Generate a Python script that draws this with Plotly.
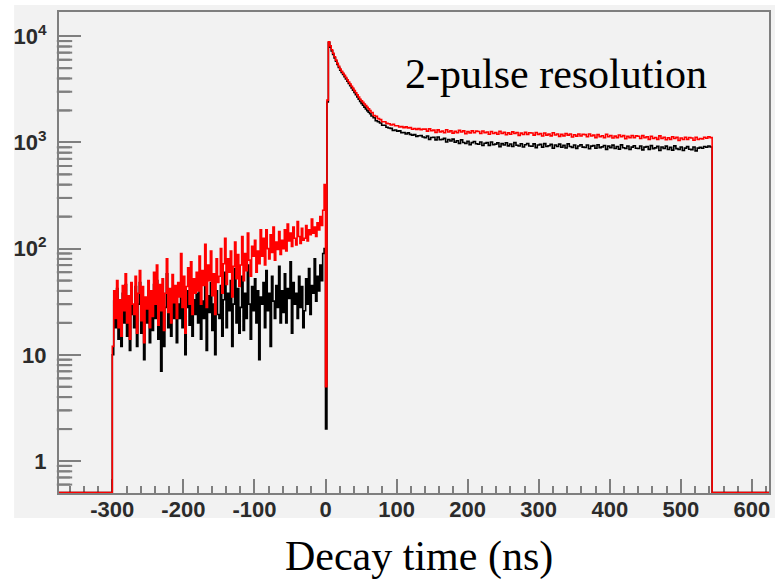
import numpy as np
import plotly.graph_objects as go

# ---------------- data (counts per bin) ----------------
X_MIN, X_MAX = -375, 624
Y_MIN, Y_MAX = 0.506, 16900

# region 1: -300 .. 0 ns, 2 ns bins
PRE_START, PRE_WIDTH = -300, 2
PRE_RED = [
    12, 40, 22, 50, 18, 33, 15, 45, 26, 58, 20, 36, 14, 48, 30,
    24, 55, 16, 38, 62, 21, 44, 13, 35, 27, 50, 18, 40, 23, 60,
    30, 70, 19, 46, 26, 52, 17, 38, 80, 25, 42, 20, 57, 31, 45,
    22, 48, 35, 90, 28, 55, 16, 44, 66, 30, 75, 24, 52, 38, 60,
    40, 85, 30, 62, 45, 110, 28, 70, 50, 95, 36, 58, 24, 80, 48,
    55, 100, 38, 72, 125, 46, 80, 60, 95, 35, 68, 115, 52, 88, 44,
    70, 130, 50, 90, 62, 140, 78, 55, 105, 85, 120, 60, 95, 72, 150,
    85, 125, 70, 150, 100, 80, 135, 92, 160, 78, 115, 98, 145, 88, 120,
    100, 150, 95, 170, 118, 140, 105, 160, 125, 108, 180, 130, 112, 155, 120,
    125, 165, 118, 150, 135, 190, 140, 160, 130, 175, 150, 200, 165, 230, 400,
]
PRE_BLACK = [
    10, 32, 18, 42, 14, 26, 12, 38, 20, 46, 15, 28, 11, 40, 24,
    18, 44, 12, 30, 48, 16, 34, 9, 27, 20, 40, 13, 32, 17, 46,
    22, 50, 14, 34, 7, 38, 12, 28, 58, 18, 30, 15, 42, 22, 33,
    13, 30, 22, 45, 18, 36, 10, 28, 40, 19, 48, 15, 33, 24, 38,
    20, 42, 14, 32, 22, 55, 11, 36, 25, 48, 17, 30, 10, 40, 24,
    22, 45, 15, 33, 60, 18, 38, 26, 50, 12, 30, 65, 20, 42, 16,
    28, 55, 17, 38, 22, 70, 30, 14, 44, 26, 52, 20, 40, 9, 35,
    30, 48, 18, 62, 26, 38, 12, 55, 32, 22, 45, 28, 68, 20, 40,
    25, 58, 20, 42, 34, 75, 16, 48, 30, 38, 22, 55, 28, 44, 18,
    26, 52, 30, 65, 24, 45, 38, 80, 32, 55, 40, 70, 50, 90, 100,
]

# region 2: 0 .. 64 ns, 2 ns bins (dip, rise, fast decay)
MID_START, MID_WIDTH = 0, 2
MID_RED = [
    5, 2500,
    8850, 8100, 7450, 6900, 6400, 5950, 5550, 5200, 4900, 4680,
    4480, 4275, 4080, 3890, 3710, 3540, 3380, 3225, 3075, 2935,
    2800, 2670, 2550, 2465, 2380, 2300, 2220, 2145, 2070, 2000,
]
MID_BLACK = [
    2, 2400,
    8700, 7900, 7280, 6740, 6250, 5820, 5420, 5080, 4780, 4560,
    4370, 4160, 3960, 3770, 3590, 3420, 3260, 3100, 2950, 2810,
    2680, 2550, 2430, 2330, 2240, 2150, 2060, 1990, 1920, 1860,
]

# region 3: 64 .. 544 ns, 3 ns bins (slow component)
LATE_START, LATE_WIDTH = 64, 3
LATE_RED = [
    1911, 1795, 1760, 1676, 1638, 1563, 1566, 1510, 1498, 1457,
    1482, 1436, 1437, 1395, 1408, 1378, 1401, 1370, 1377, 1330,
    1352, 1327, 1349, 1316, 1333, 1334, 1276, 1341, 1287, 1305,
    1241, 1313, 1257, 1278, 1233, 1316, 1255, 1283, 1223, 1271,
    1233, 1297, 1254, 1283, 1206, 1264, 1229, 1284, 1232, 1276,
    1266, 1212, 1282, 1231, 1252, 1192, 1267, 1213, 1237, 1192,
    1274, 1214, 1242, 1182, 1230, 1192, 1256, 1213, 1241, 1165,
    1223, 1187, 1243, 1191, 1234, 1225, 1171, 1240, 1190, 1211,
    1150, 1226, 1172, 1196, 1151, 1233, 1173, 1201, 1140, 1189,
    1151, 1214, 1172, 1200, 1123, 1182, 1146, 1201, 1150, 1193,
    1183, 1130, 1199, 1149, 1170, 1109, 1185, 1131, 1154, 1110,
    1192, 1131, 1160, 1099, 1147, 1110, 1173, 1130, 1159, 1082,
    1140, 1105, 1160, 1109, 1152, 1142, 1089, 1158, 1107, 1129,
    1068, 1143, 1090, 1113, 1068, 1151, 1090, 1118, 1058, 1106,
    1068, 1132, 1089, 1118, 1041, 1099, 1064, 1119, 1067, 1111,
    1101, 1047, 1117, 1066, 1087, 1080, 1120, 1095, 1130, 1110,
]
LATE_BLACK = [
    1771, 1706, 1600, 1566, 1523, 1451, 1450, 1388, 1366, 1355,
    1296, 1308, 1276, 1283, 1235, 1240, 1201, 1229, 1190, 1171,
    1184, 1141, 1154, 1159, 1126, 1106, 1149, 1068, 1112, 1119,
    1057, 1123, 1059, 1069, 1091, 1008, 1065, 1031, 1073, 1003,
    1037, 980, 1057, 998, 978, 1023, 953, 996, 1021, 970,
    961, 1009, 934, 983, 995, 938, 1009, 949, 963, 990,
    912, 975, 945, 993, 928, 966, 914, 996, 940, 924,
    972, 904, 949, 976, 926, 919, 968, 894, 945, 958,
    902, 974, 915, 931, 959, 882, 945, 916, 964, 899,
    938, 886, 968, 914, 898, 946, 879, 924, 951, 902,
    895, 945, 871, 923, 936, 880, 952, 893, 908, 936,
    859, 922, 893, 942, 877, 916, 865, 947, 892, 876,
    925, 858, 903, 930, 882, 875, 925, 851, 903, 916,
    860, 932, 874, 889, 917, 840, 904, 875, 923, 858,
    898, 846, 928, 873, 858, 906, 839, 884, 912, 863,
    856, 906, 833, 884, 897, 880, 914, 900, 925, 905,
]

X_TICKS = [-300, -200, -100, 0, 100, 200, 300, 400, 500, 600]
X_TICK_TEXT = ["-300", "-200", "-100", "0", "100", "200", "300", "400", "500", "600"]
Y_TICKS = [1, 10, 100, 1000, 10000]
Y_TICK_TEXT = ["1", "10", "10<sup>2</sup>", "10<sup>3</sup>", "10<sup>4</sup>"]

LABEL = "2-pulse resolution"
X_TITLE = "Decay time (ns)"


def step_series(pre, mid, late):
    edges = np.concatenate([
        [X_MIN],
        PRE_START + PRE_WIDTH * np.arange(len(pre)),
        MID_START + MID_WIDTH * np.arange(len(mid)),
        LATE_START + LATE_WIDTH * np.arange(len(late)),
        [LATE_START + LATE_WIDTH * len(late), X_MAX],
    ])
    vals = np.concatenate([[0], pre, mid, late, [0, 0]]).astype(float)
    vals = np.maximum(vals, Y_MIN)  # empty bins drawn on the frame bottom
    return edges, vals


xb, yb = step_series(PRE_BLACK, MID_BLACK, LATE_BLACK)
xr, yr = step_series(PRE_RED, MID_RED, LATE_RED)

W, H = 777, 581
L, R, T, B = 59, 6, 12, 88
pw, ph = W - L - R, H - T - B


def px_x(p):
    return (p - L) / pw


def px_y(p):
    return (H - B - p) / ph


tickfont = dict(family="Liberation Sans, Arial, sans-serif", size=22,
                color="#2b2b2b", weight="bold")
axcol = "#7f7f7f"
y_range = [float(np.log10(0.5)), float(np.log10(Y_MAX))]

# minor log tick positions (2..9 x 10^k) inside the range
minor_vals = [m * 10.0 ** k for k in range(-1, 5) for m in range(2, 10)
              if y_range[0] < np.log10(m * 10.0 ** k) < y_range[1]]

fig = go.Figure()
fig.add_trace(go.Scatter(x=xb, y=yb, mode="lines",
                         line=dict(color="#000000", width=1.6, shape="hv"),
                         hoverinfo="skip"))
fig.add_trace(go.Scatter(x=xr, y=yr, mode="lines",
                         line=dict(color="#ff0000", width=1.6, shape="hv"),
                         hoverinfo="skip"))
# minor tick marks on the left frame (short horizontal dashes, 11 px long)
tick_x = X_MIN + (5.5 / pw) * (X_MAX - X_MIN)
fig.add_trace(go.Scatter(x=[tick_x] * len(minor_vals), y=minor_vals,
                         mode="markers", hoverinfo="skip", cliponaxis=False,
                         marker=dict(symbol="line-ew", size=11, color=axcol,
                                     line=dict(color=axcol, width=2))))
# empty trace that carries the overlay x axis holding the tick labels
fig.add_trace(go.Scatter(x=[None], y=[None], xaxis="x2", yaxis="y",
                         mode="lines", hoverinfo="skip", showlegend=False))

# same minor ticks also as paper-referenced lines
minor_shapes = []
for v in minor_vals:
    yp = (np.log10(v) - y_range[0]) / (y_range[1] - y_range[0])
    minor_shapes.append(dict(type="line", xref="paper", yref="paper",
                             x0=0, x1=11 / pw, y0=float(yp), y1=float(yp),
                             line=dict(color=axcol, width=2)))

fig.update_layout(
    width=W, height=H,
    margin=dict(l=L, r=R, t=T, b=B, pad=0),
    paper_bgcolor="white",
    plot_bgcolor="#f2f2f2",
    showlegend=False,
    xaxis=dict(
        range=[X_MIN, X_MAX], showgrid=False, zeroline=False,
        showline=True, linecolor=axcol, linewidth=2, mirror=True,
        tickmode="array", tickvals=X_TICKS, showticklabels=False,
        ticks="inside", ticklen=14, tickwidth=2, tickcolor=axcol,
        minor=dict(dtick=20, ticks="inside", ticklen=7, tickwidth=2,
                   tickcolor=axcol, showgrid=False),
        layer="below traces",
    ),
    xaxis2=dict(
        overlaying="x", anchor="y", side="bottom",
        range=[X_MIN, X_MAX], showgrid=False, zeroline=False, showline=False,
        tickmode="array", tickvals=X_TICKS, ticktext=X_TICK_TEXT,
        ticks="", tickfont=tickfont, ticklabelstandoff=1,
    ),
    yaxis=dict(
        type="log", range=y_range,
        showgrid=False, zeroline=False,
        showline=True, linecolor=axcol, linewidth=2, mirror=True,
        tickmode="array", tickvals=Y_TICKS, ticktext=Y_TICK_TEXT,
        ticks="inside", ticklen=22, tickwidth=2, tickcolor=axcol,
        tickfont=tickfont, ticklabelstandoff=6,
        layer="below traces",
    ),
    shapes=[dict(type="rect", xref="paper", yref="paper",
                 x0=px_x(14), x1=px_x(777), y0=px_y(518), y1=px_y(5),
                 fillcolor="#f2f2f2", line=dict(width=0), layer="below")]
           + minor_shapes,
    annotations=[
        dict(text=LABEL, xref="paper", yref="paper",
             x=px_x(404), y=px_y(74), xanchor="left", yanchor="middle",
             showarrow=False,
             font=dict(family="Liberation Serif, Times New Roman, serif",
                       size=42, color="black")),
        dict(text=X_TITLE, xref="paper", yref="paper",
             x=px_x(420), y=px_y(556), xanchor="center", yanchor="middle",
             showarrow=False,
             font=dict(family="Liberation Serif, Times New Roman, serif",
                       size=42, color="black")),
    ],
)

fig.write_html("out.html")
